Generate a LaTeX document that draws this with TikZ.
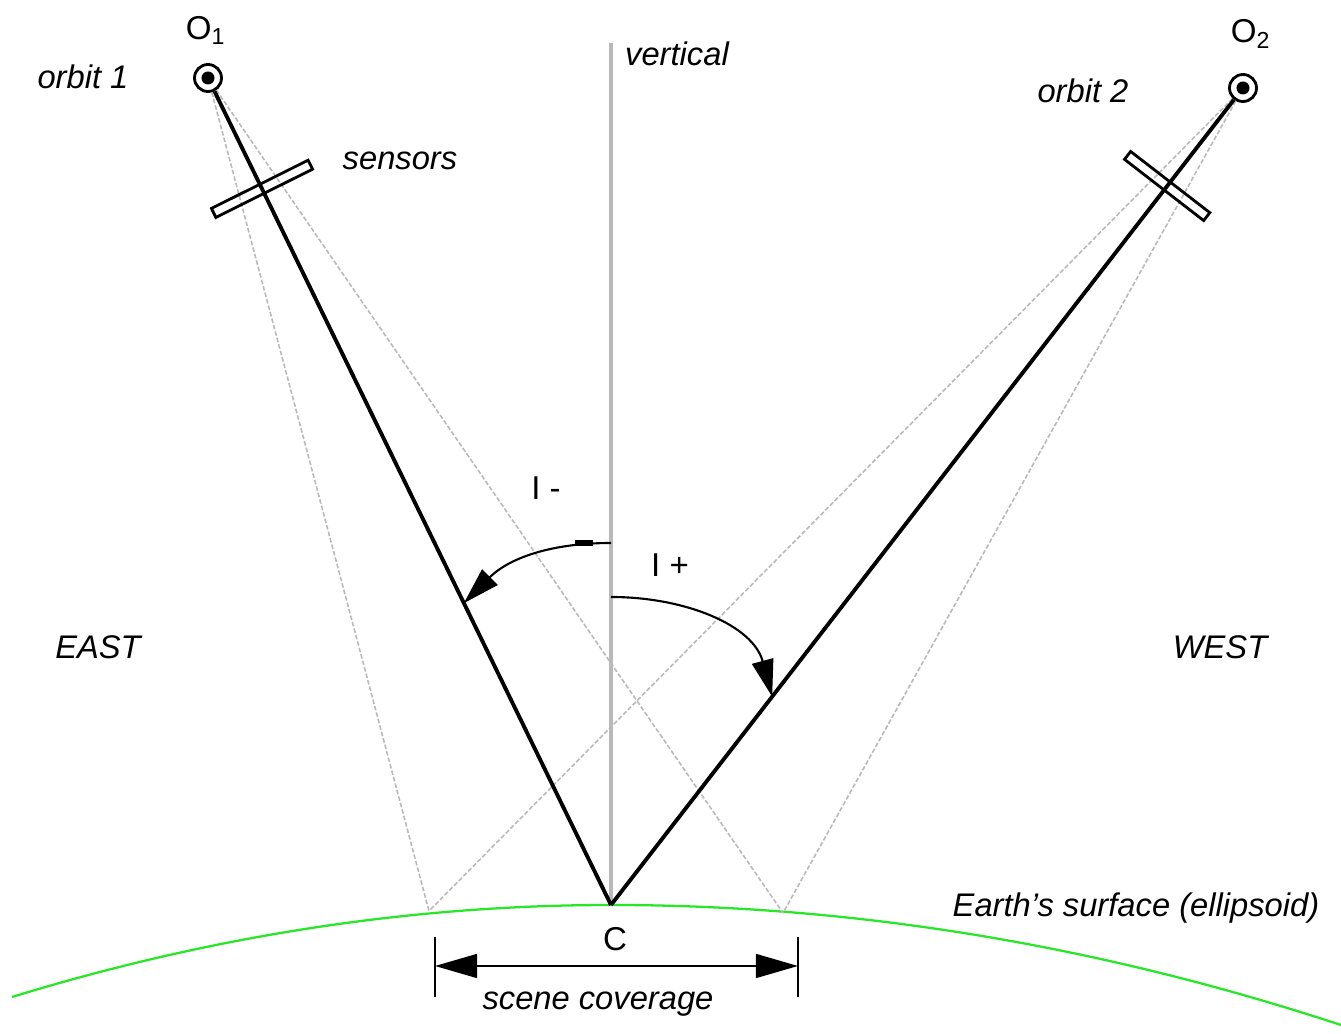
\documentclass[tikz,border=0pt]{standalone}
\usepackage{fontspec}
\setmainfont{Liberation Sans}
\usetikzlibrary{arrows.meta,calc}
\definecolor{earthgreen}{RGB}{40,230,40}
\begin{document}
\begin{tikzpicture}[x=0.01cm,y=-0.01cm,
  lbl/.style={font=\fontsize{9.3}{11}\selectfont\itshape,inner sep=0pt},
  rlbl/.style={font=\fontsize{9.4}{11}\selectfont,inner sep=0pt},
  orbitpt/.style={circle,draw,line width=0.8pt,minimum size=0.27cm,inner sep=0pt},
  beam/.style={line width=1.1pt,black},
  ray/.style={gray!55,line width=0.45pt,dash pattern=on 1.3pt off 0.6pt},
  vert/.style={gray!55,line width=1.4pt},
  sensorbox/.style={draw,line width=0.8pt,minimum width=1.08cm,minimum height=0.1cm,inner sep=0pt},
  anglearc/.style={line width=0.6pt,-{Triangle[length=10.5pt,width=6.2pt]}},
  dim/.style={line width=0.6pt,{Triangle[length=12pt,width=6.8pt]}-{Triangle[length=12pt,width=6.8pt]}},
  earth/.style={earthgreen,line width=0.65pt}
]
\useasboundingbox (0,0) rectangle (1341,1034);

% key points
\coordinate (C) at (611,905);
\coordinate (Vtop) at (611,43);
\coordinate (E1) at (429,911);
\coordinate (E2) at (783,913);
\coordinate (EL) at (12,997);
\coordinate (ER) at (1341,1025);

% earth surface
\draw[earth] (EL) .. controls (211.7,935.7) and (411.3,905) .. (C)
  .. controls (854.3,905) and (1097.7,945) .. (ER);

% vertical
\draw[vert] (Vtop) -- (C);

% orbit points
\node[orbitpt] (O1) at (208,78) {};
\node[orbitpt] (O2) at (1243,88) {};
\fill (O1.center) circle[radius=0.065cm];
\fill (O2.center) circle[radius=0.065cm];

% grey rays
\draw[ray] (O1) -- (E1);
\draw[ray] (O1) -- (E2);
\draw[ray] (O2) -- (E1);
\draw[ray] (O2) -- (E2);

% main beams
\draw[beam] (O1) -- (C);
\draw[beam] (O2) -- (C);

% sensors
\node[sensorbox,rotate=26.5] (S1) at ($(O1.center)!0.134!(C)$) {};
\node[sensorbox,rotate=-37.7,minimum width=1.0cm] (S2) at ($(O2.center)!0.12!(C)$) {};

% incidence angles
\coordinate (V1) at (611,543);
\coordinate (V2) at (611,597);
\coordinate (Im) at ($(O1.center)!0.635!(C)$);
\coordinate (Ip) at ($(O2.center)!0.745!(C)$);
\draw[anglearc] (V1) to[out=180,in=45] (Im);
\draw[line width=1.6pt] (575,543) -- (593,543);
\draw[anglearc] (V2) to[out=0,in=105] (Ip);

% scene coverage
\coordinate (T1a) at (435,937); \coordinate (T1b) at (435,997);
\coordinate (T2a) at (798,937); \coordinate (T2b) at (798,997);
\coordinate (D1) at (435,966); \coordinate (D2) at (798,966);
\draw[line width=0.6pt] (T1a) -- (T1b);
\draw[line width=0.6pt] (T2a) -- (T2b);
\draw[dim] (D1) -- (D2);

% labels
\node[rlbl] (lO1) at (206,30) {O\textsubscript{1}};
\node[rlbl] (lO2) at (1251,34) {O\textsubscript{2}};
\node[lbl] (lorb1) at (83,77) {orbit 1};
\node[lbl] (lorb2) at (1083,91) {orbit 2};
\node[lbl] (lsens) at (400,161) {sensors};
\node[lbl] (lvert) at (677,54) {vertical};
\node[rlbl] (lIm) at (546,488) {I -};
\node[rlbl] (lIp) at (670,565) {I +};
\node[lbl] (least) at (98,647) {EAST};
\node[lbl] (lwest) at (1220,647) {WEST};
\node[lbl] (learth) at (1136,908) {Earth's surface (ellipsoid)};
\node[rlbl] (lC) at (615,939) {C};
\node[lbl] (lscene) at (598,1004) {scene coverage};
\end{tikzpicture}
\end{document}
